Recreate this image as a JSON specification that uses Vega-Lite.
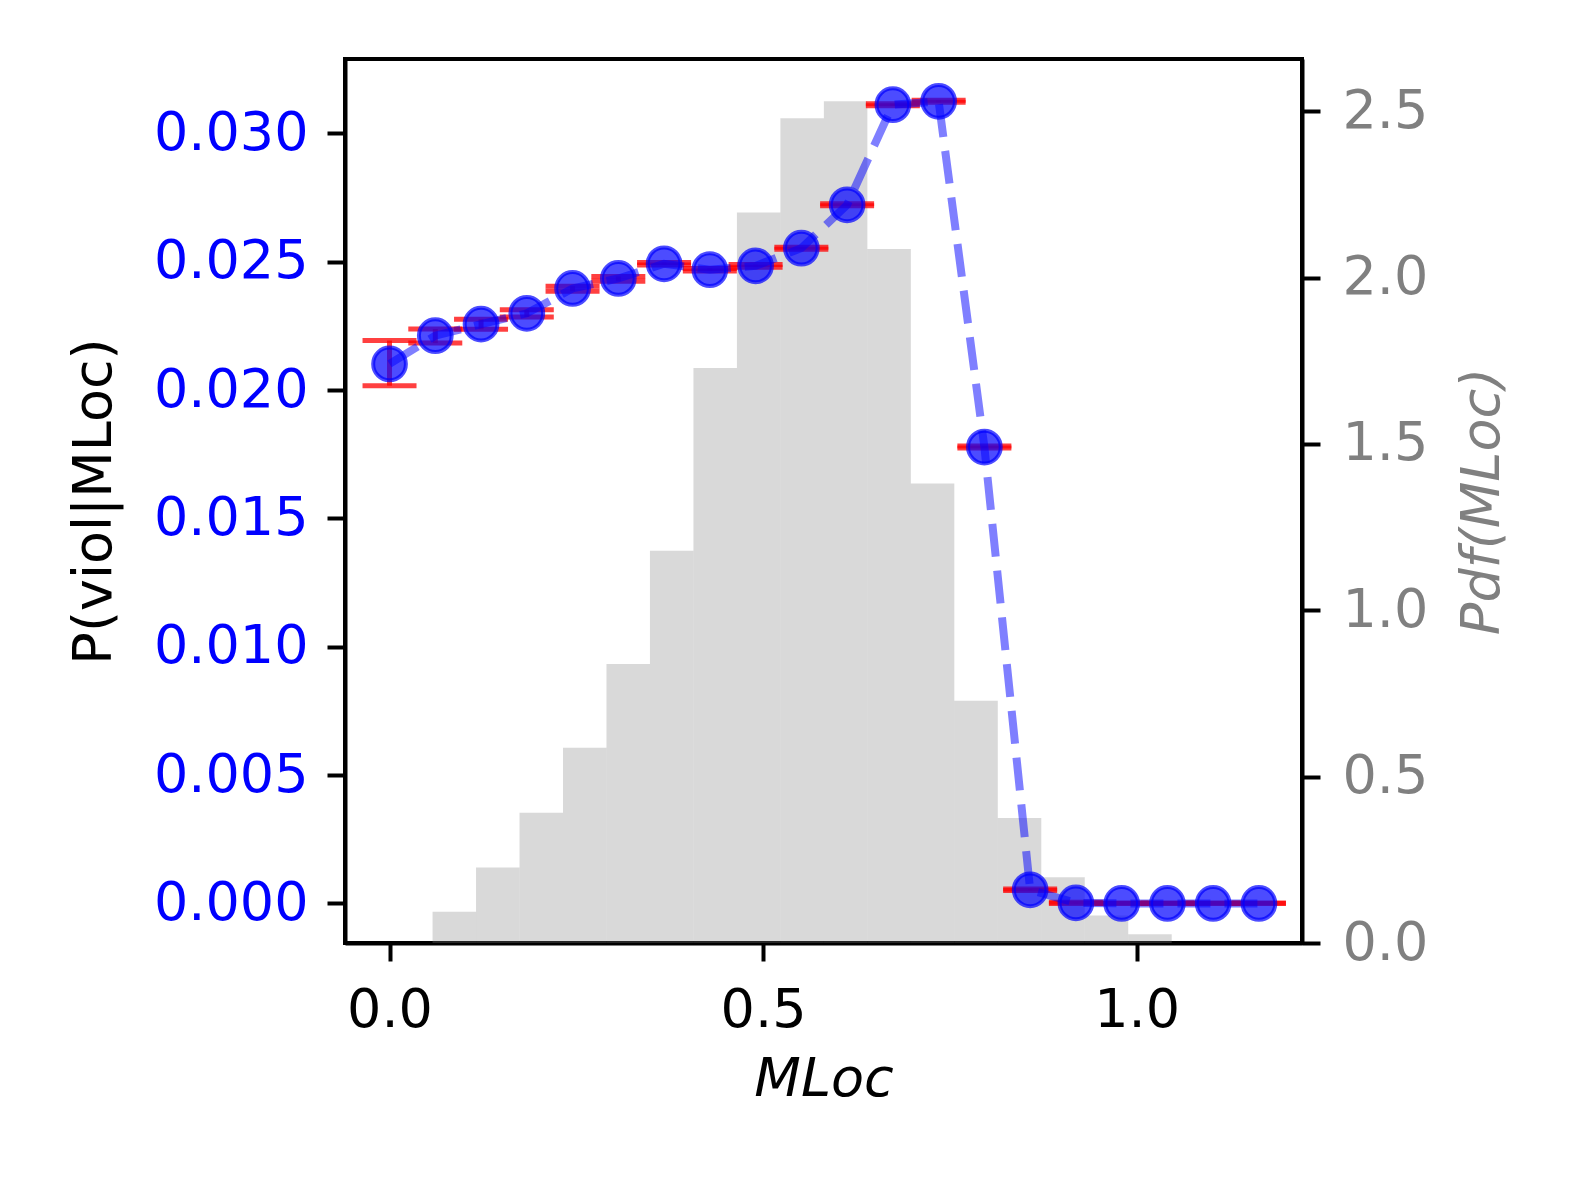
{
  "$schema": "https://vega.github.io/schema/vega-lite/v6.json",
  "width": 957,
  "height": 884,
  "autosize": "none",
  "padding": {"left": 345, "top": 59, "right": 276, "bottom": 240},
  "background": "white",
  "datasets": {
    "hist": [
      {"lo": 0.0576, "hi": 0.1158, "pdf": 0.0936},
      {"lo": 0.1158, "hi": 0.1740, "pdf": 0.2266},
      {"lo": 0.1740, "hi": 0.2322, "pdf": 0.3917},
      {"lo": 0.2322, "hi": 0.2904, "pdf": 0.587},
      {"lo": 0.2904, "hi": 0.3486, "pdf": 0.8388},
      {"lo": 0.3486, "hi": 0.4068, "pdf": 1.179},
      {"lo": 0.4068, "hi": 0.4650, "pdf": 1.728},
      {"lo": 0.4650, "hi": 0.5232, "pdf": 2.196},
      {"lo": 0.5232, "hi": 0.5814, "pdf": 2.479},
      {"lo": 0.5814, "hi": 0.6396, "pdf": 2.530},
      {"lo": 0.6396, "hi": 0.6978, "pdf": 2.086},
      {"lo": 0.6978, "hi": 0.7560, "pdf": 1.381},
      {"lo": 0.7560, "hi": 0.8142, "pdf": 0.728},
      {"lo": 0.8142, "hi": 0.8724, "pdf": 0.3756},
      {"lo": 0.8724, "hi": 0.9306, "pdf": 0.1974},
      {"lo": 0.9306, "hi": 0.9888, "pdf": 0.0826},
      {"lo": 0.9888, "hi": 1.0470, "pdf": 0.0262}
    ],
    "viol": [
      {"m": 0.0, "p": 0.02102, "lo": 0.02017, "hi": 0.02193},
      {"m": 0.06125, "p": 0.02212, "lo": 0.02183, "hi": 0.02238},
      {"m": 0.1225, "p": 0.02257, "lo": 0.02237, "hi": 0.02276},
      {"m": 0.18375, "p": 0.02299, "lo": 0.02285, "hi": 0.02313},
      {"m": 0.245, "p": 0.02396, "lo": 0.02385, "hi": 0.02405},
      {"m": 0.30625, "p": 0.02435, "lo": 0.02424, "hi": 0.02443},
      {"m": 0.3675, "p": 0.02492, "lo": 0.02487, "hi": 0.02497},
      {"m": 0.42875, "p": 0.02469, "lo": 0.02464, "hi": 0.02474},
      {"m": 0.49, "p": 0.02484, "lo": 0.02479, "hi": 0.02489},
      {"m": 0.55125, "p": 0.02553, "lo": 0.02549, "hi": 0.02557},
      {"m": 0.6125, "p": 0.02722, "lo": 0.02718, "hi": 0.02726},
      {"m": 0.67375, "p": 0.03112, "lo": 0.03108, "hi": 0.03116},
      {"m": 0.735, "p": 0.03125, "lo": 0.03121, "hi": 0.03129},
      {"m": 0.79625, "p": 0.01778, "lo": 0.01774, "hi": 0.01782},
      {"m": 0.8575, "p": 0.00053, "lo": 0.00050, "hi": 0.00056},
      {"m": 0.91875, "p": 0.00002, "lo": 0.0, "hi": 0.00004},
      {"m": 0.98, "p": 0.0, "lo": 0.0, "hi": 0.00002},
      {"m": 1.04125, "p": 0.0, "lo": 0.0, "hi": 0.00002},
      {"m": 1.1025, "p": 0.0, "lo": 0.0, "hi": 0.00002},
      {"m": 1.16375, "p": 0.0, "lo": 0.0, "hi": 0.00002}
    ]
  },
  "layer": [
    {
      "data": {"name": "hist"},
      "mark": {"type": "rect", "color": "gray", "opacity": 0.3},
      "encoding": {
        "x": {
          "field": "lo",
          "type": "quantitative",
          "scale": {"domain": [-0.0596, 1.2214], "nice": false, "zero": false},
          "axis": {"orient": "bottom", "values": [0, 0.5, 1.0], "format": ".1f"},
          "title": "MLoc"
        },
        "x2": {"field": "hi"},
        "y": {
          "field": "pdf",
          "type": "quantitative",
          "scale": {"domain": [0, 2.657], "nice": false, "zero": true},
          "axis": {"orient": "right", "values": [0, 0.5, 1.0, 1.5, 2.0, 2.5], "format": ".1f"},
          "title": "Pdf(MLoc)"
        },
        "y2": {"datum": 0}
      }
    },
    {
      "data": {"name": "viol"},
      "encoding": {
        "x": {
          "field": "m",
          "type": "quantitative",
          "scale": {"domain": [-0.0596, 1.2214], "nice": false, "zero": false},
          "title": "MLoc"
        }
      },
      "layer": [
        {
          "mark": {"type": "rule", "color": "red", "opacity": 0.75, "strokeWidth": 5},
          "encoding": {
            "y": {
              "field": "lo",
              "type": "quantitative",
              "scale": {"domain": [-0.001543, 0.0329], "nice": false, "zero": false},
              "axis": {"orient": "left", "values": [0, 0.005, 0.01, 0.015, 0.02, 0.025, 0.03], "format": ".3f"},
              "title": "P(viol|MLoc)"
            },
            "y2": {"field": "hi"}
          }
        },
        {
          "mark": {"type": "tick", "orient": "horizontal", "color": "red", "opacity": 0.75, "size": 54, "thickness": 5},
          "encoding": {
            "y": {"field": "lo", "type": "quantitative", "title": "P(viol|MLoc)"}
          }
        },
        {
          "mark": {"type": "tick", "orient": "horizontal", "color": "red", "opacity": 0.75, "size": 54, "thickness": 5},
          "encoding": {
            "y": {"field": "hi", "type": "quantitative", "title": "P(viol|MLoc)"}
          }
        },
        {
          "mark": {"type": "line", "color": "blue", "opacity": 0.5, "strokeWidth": 8, "strokeDash": [33, 14]},
          "encoding": {
            "y": {"field": "p", "type": "quantitative", "title": "P(viol|MLoc)"}
          }
        },
        {
          "mark": {"type": "circle", "size": 1070, "fill": "blue", "fillOpacity": 0.7, "stroke": "blue", "strokeOpacity": 0.7, "strokeWidth": 4},
          "encoding": {
            "y": {"field": "p", "type": "quantitative", "title": "P(viol|MLoc)"}
          }
        }
      ]
    }
  ],
  "resolve": {"scale": {"y": "independent"}},
  "config": {
    "font": "DejaVu Sans",
    "view": {"stroke": "black", "strokeWidth": 4},
    "axis": {
      "domainColor": "black",
      "domainWidth": 4,
      "tickColor": "black",
      "tickWidth": 4,
      "tickSize": 18,
      "labelFont": "DejaVu Sans",
      "labelFontSize": 54,
      "labelColor": "black",
      "labelFlush": false,
      "labelOverlap": false,
      "titleFont": "DejaVu Sans",
      "titleFontSize": 54,
      "titleFontWeight": "normal",
      "titleColor": "black",
      "grid": false
    },
    "axisLeft": {
      "labelColor": "blue",
      "labelPadding": 19,
      "titlePadding": 32,
      "grid": true,
      "gridColor": "#a8a8a8",
      "gridDash": [9, 4],
      "gridWidth": 2.5
    },
    "axisRight": {
      "labelColor": "gray",
      "labelPadding": 22,
      "titleColor": "gray",
      "titleFontStyle": "italic",
      "titleAngle": 270,
      "titleBaseline": "top",
      "titlePadding": 28
    },
    "axisBottom": {
      "labelPadding": 22,
      "titlePadding": 15,
      "titleFontStyle": "italic"
    }
  }
}
